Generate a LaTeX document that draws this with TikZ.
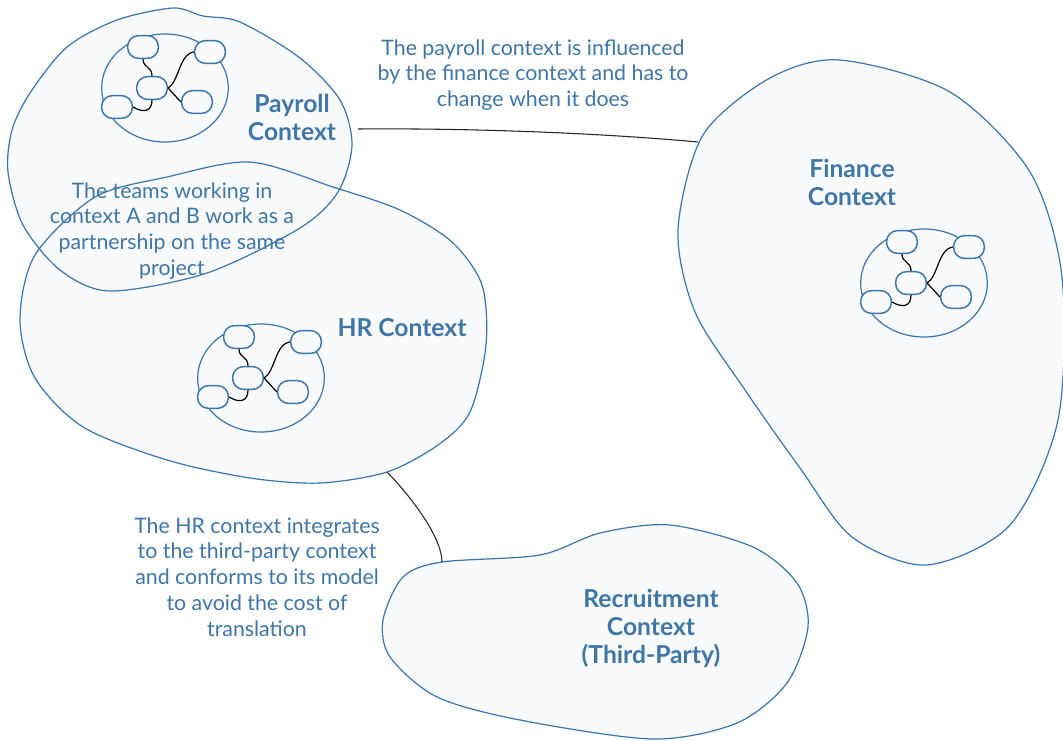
\documentclass[tikz,border=0pt]{standalone}
\usepackage{fontspec}
\setmainfont{Lato}
\usetikzlibrary{positioning}

\definecolor{ctxblue}{RGB}{58,117,174}
\definecolor{ctxtext}{RGB}{62,118,168}
\definecolor{ctxfill}{RGB}{248,250,251}

\tikzset{
  blobfill/.style={fill=ctxfill},
  blobline/.style={draw=ctxblue, line width=0.9pt},
  entity/.style={draw=ctxblue, line width=1.1pt, fill=ctxfill, rounded corners=8pt, minimum width=23pt, minimum height=17pt, inner sep=0pt},
  link/.style={draw=black, line width=0.9pt},
  relation/.style={draw=black!85, line width=0.8pt},
  note/.style={text=ctxtext, align=center, font=\fontsize{16}{19.4}\selectfont},
  ctxname/.style={text=ctxtext, align=center, font=\fontsize{18.5}{21}\selectfont\bfseries},
  pics/model/.style={code={
    \draw[ctxblue, line width=0.9pt] (0,0) ellipse[x radius=47.5pt, y radius=40.5pt];
    \node[entity] (-a) at (-22,-41) {};
    \node[entity] (-b) at (45,-36) {};
    \node[entity] (-c) at (-13,0) {};
    \node[entity] (-d) at (-48,19) {};
    \node[entity] (-e) at (32,14) {};
    \draw[link] (-a.south) .. controls (-22,-20) and (-13,-22) .. (-c.north);
    \draw[link] (-d.east) .. controls (-22,25) and (-13,24) .. (-c.south);
    \draw[link] (-c.east) .. controls (14,-6) and (14,-34) .. (-b.west);
    \draw[link] (-c.east) -- (-e.west);
  }}
}

\begin{document}
\begin{tikzpicture}[x=0.75pt, y=-0.75pt]
  \useasboundingbox[fill=white] (0,0) rectangle (1063,740);

  \path[save path=\payrollblob] plot[smooth cycle] coordinates {(173,8) (203,16) (240,22) (300,58) (340,100) (352,145) (338,192) (300,228) (207,273) (110,291) (60,270) (23,225) (8,172) (12,130) (30,93) (67,47) (117,20)};
  \path[save path=\hrblob] plot[smooth cycle] coordinates {(250,162) (333,187) (400,210) (452,242) (482,285) (486,345) (470,412) (438,445) (387,472) (320,483) (250,478) (167,460) (83,427) (35,378) (20,320) (35,255) (95,197) (167,177)};
  \path[save path=\financeblob] plot[smooth cycle] coordinates {(840,60) (950,92) (1030,172) (1062,277) (1058,420) (1010,525) (927,565) (852,537) (800,468) (745,390) (695,312) (678,230) (703,135) (770,78)};
  \path[save path=\recruitblob] plot[smooth cycle] coordinates {(442,562) (540,555) (600,533) (670,525) (753,547) (797,583) (808,627) (787,683) (737,723) (653,739) (520,720) (437,697) (390,657) (383,620) (403,577)};

  \fill[blobfill, use path=\payrollblob];
  \fill[blobfill, use path=\hrblob];
  \fill[blobfill, use path=\financeblob];
  \fill[blobfill, use path=\recruitblob];
  \draw[blobline, use path=\payrollblob];
  \draw[blobline, use path=\hrblob];
  \draw[blobline, use path=\financeblob];
  \draw[blobline, use path=\recruitblob];

  \pic (pay) at (165,88) {model};
  \pic (hr) at (261,378) {model};
  \pic (fin) at (924,283) {model};

  \node[ctxname] (payroll) at (292,117) {Payroll\\Context};
  \node[ctxname] (hrctx) at (402,328) {HR Context};
  \node[ctxname] (finance) at (852,182) {Finance\\Context};
  \node[ctxname] (recruit) at (651,628) {Recruitment\\Context\\(Third-Party)};

  \node[note] (paynote) at (533,75) {The payroll context is influenced\\by the finance context and has to\\change when it does};
  \node[note] (partnote) at (172,231) {The teams working in\\context A and B work as a\\partnership on the same\\project};
  \node[note] (hrnote) at (257,577) {The HR context integrates\\to the third-party context\\and conforms to its model\\to avoid the cost of\\translation};

  \coordinate (payend) at (358,129);
  \coordinate (finend) at (698,142);
  \coordinate (hrend) at (387,472);
  \coordinate (recend) at (442,562);

  \draw[relation] (payend) .. controls (470,128) and (600,133) .. (finend);
  \draw[relation] (hrend) .. controls (405,490) and (442,535) .. (recend);
\end{tikzpicture}
\end{document}
